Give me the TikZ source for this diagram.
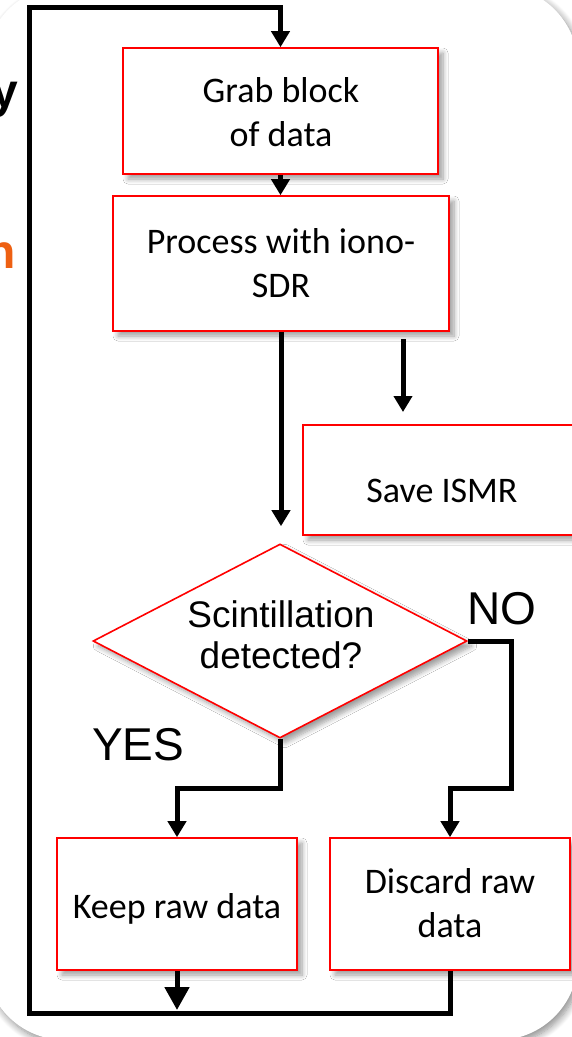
\documentclass[tikz,border=0pt]{standalone}
\usepackage{fontspec}
\setmainfont{Carlito}
\newfontfamily\arialf{Liberation Sans}
\usetikzlibrary{arrows.meta,shapes.geometric,shadows.blur}
\definecolor{slideorange}{RGB}{238,96,18}

\begin{document}
\begin{tikzpicture}[x=1pt,y=-1pt,
  softshadow/.style={blur shadow={shadow xshift=5pt, shadow yshift=-5pt,
      shadow blur radius=5pt, shadow blur steps=8, shadow opacity=38}},
  box/.style={rectangle, draw=red, line width=1.6pt, fill=white,
      inner sep=0pt, softshadow},
  decision/.style={diamond, draw=red, line width=1.6pt, fill=white,
      inner sep=0pt, softshadow},
  boxtxt/.style={font=\fontsize{36}{44}\selectfont, align=center, inner sep=0pt},
  dectxt/.style={font=\arialf\fontsize{37}{41}\selectfont, align=center, inner sep=0pt},
  answer/.style={font=\arialf\fontsize{46}{52}\selectfont, inner sep=0pt},
  frag/.style={font=\arialf\bfseries\fontsize{48}{56}\selectfont, inner sep=0pt},
  wire/.style={line width=5pt, black},
  conn/.style={wire, -{Triangle[width=18pt,length=16pt]}},
  bigconn/.style={wire, -{Triangle[width=24pt,length=23pt]}}
]
\useasboundingbox (0,0) rectangle (571,1037);

% rounded panel behind the flow chart
\path[fill=white, rounded corners=80pt,
      blur shadow={shadow xshift=3pt, shadow yshift=-4pt,
      shadow blur radius=7pt, shadow blur steps=10, shadow opacity=45}]
  (-15,-14) rectangle (578,1040);

% heading letters cut off at the left edge
\node[frag, anchor=base east] (fy) at (18,107) {y};
\node[frag, text=slideorange, anchor=base east] (fn) at (16,268) {n};

% process steps
\node[box, minimum width=315pt, minimum height=126pt] (grab) at (280.5,111) {};
\node[boxtxt] (grabt) at (281,112) {Grab block\\of data};

\node[box, minimum width=336pt, minimum height=135pt] (proc) at (281,263.5) {};
\node[boxtxt] (proct) at (281,263) {Process with iono-\\SDR};

\node[box, minimum width=287pt, minimum height=110pt] (save) at (446.5,480) {};
\node[boxtxt] (savet) at (442,491) {Save ISMR};

\node[decision, minimum width=374pt, minimum height=194pt] (dia) at (280,641) {};
\node[dectxt] (diat) at (281,635) {Scintillation\\detected?};

\node[box, minimum width=240pt, minimum height=132pt] (keep) at (177,904) {};
\node[boxtxt] (keept) at (177,909) {Keep raw data};

\node[box, minimum width=240pt, minimum height=132pt] (disc) at (450,904) {};
\node[boxtxt] (disct) at (450,903) {Discard raw\\data};

% branch labels
\node[answer, anchor=base west] (yes) at (92,760) {YES};
\node[answer, anchor=base west] (no) at (467,624) {NO};

% routing points
\coordinate (lb) at (29,1013);
\coordinate (lt) at (29,7);
\coordinate (s0) at (403,339);
\coordinate (s1) at (403,412);
\coordinate (nc) at (511,788);

% connectors
\draw[conn] (grab.south) -- (grab.south |- proc.north);
\draw[conn, shorten >=17pt] (proc.south) -- (proc.south |- dia.north);
\draw[conn] (s0) -- (s1);
\draw[conn] (dia.south) -- ++(0,50) -| (keep.north);
\draw[conn] (dia.east) -| (nc) -| (disc.north);
\draw[bigconn, shorten >=3pt] (keep.south) -- (keep.south |- lb);
\draw[conn] (disc.south) |- (lb) -- (lt) -| (grab.north);
\end{tikzpicture}
\end{document}
